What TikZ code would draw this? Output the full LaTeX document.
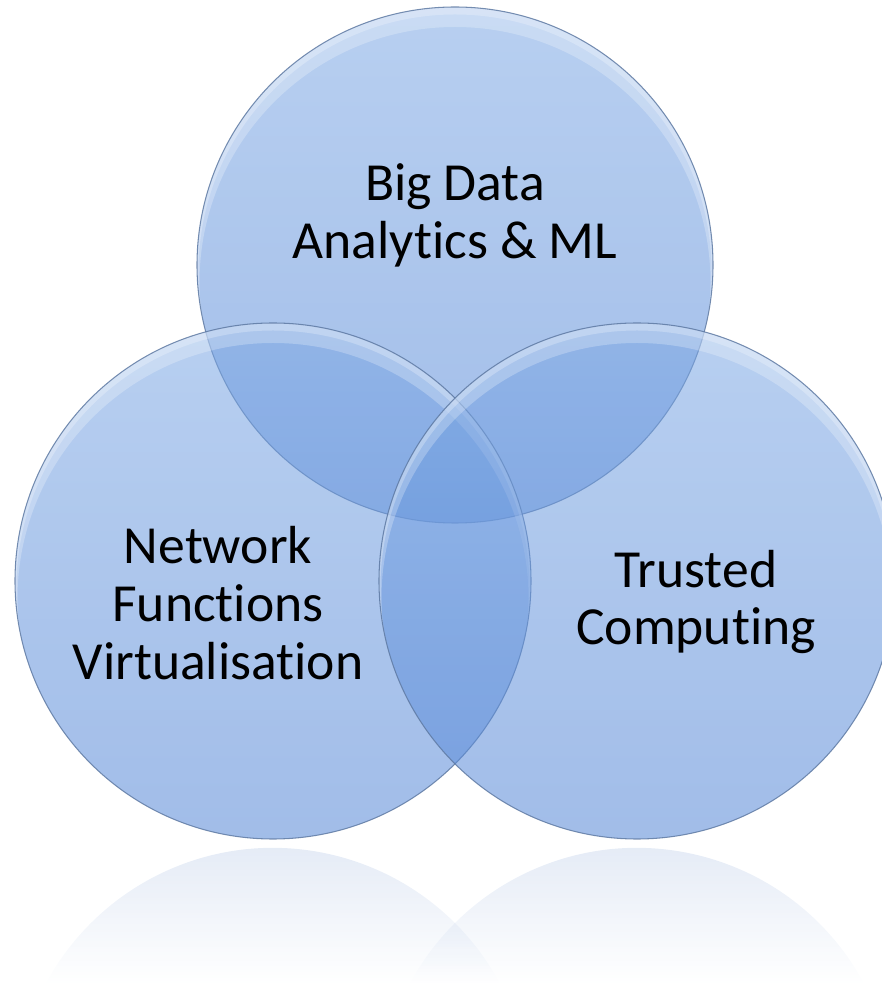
\documentclass[tikz,border=0pt]{standalone}
\usepackage{fontspec}
\setmainfont{Carlito}[Ligatures={NoCommon,NoRequired,NoContextual},Contextuals=NoAlternate]
\usetikzlibrary{fadings}

\definecolor{venntop}{RGB}{125,168,228}
\definecolor{vennbot}{RGB}{84,134,214}
\definecolor{vennrim}{RGB}{88,116,158}
\definecolor{reflcol}{RGB}{118,152,208}

\tikzfading[name=reflfade, top color=transparent!76, bottom color=transparent!100]

\begin{document}
\begin{tikzpicture}[
    vennset/.style={top color=venntop, bottom color=vennbot, fill opacity=0.55},
    vennrimline/.style={draw=vennrim, line width=0.6pt, draw opacity=0.8},
    vennglow/.style={fill=white, fill opacity=0.25, even odd rule},
    vennlabel/.style={align=center, font=\fontsize{30.5}{33}\selectfont, text=black}
  ]
  \useasboundingbox (0,0) rectangle (17.64,19.68);
  \clip (0,0) rectangle (17.64,19.68);

  \coordinate (bigdata) at (9.10,14.38);
  \coordinate (nfv) at (5.46,8.06);
  \coordinate (trusted) at (12.74,8.06);

  \foreach \x in {5.46,12.74}
    \fill[reflcol, path fading=reflfade] (\x+4.547,0) arc[start angle=28.2, end angle=151.8, radius=5.16] -- cycle;

  \foreach \c in {bigdata,nfv,trusted}{
    \shade[vennset] (\c) circle[radius=5.16];
    \begin{scope}
      \clip (\c) circle[radius=5.16];
      \fill[vennglow] (\c) circle[radius=5.16] ([yshift=-0.35cm]\c) circle[radius=5.11];
      \fill[vennglow] (\c) circle[radius=5.16] ([yshift=-0.12cm]\c) circle[radius=5.13];
    \end{scope}
    \draw[vennrimline] (\c) circle[radius=5.16];
  }

  \node[vennlabel] (bigdatatext) at (9.10,15.38) {Big Data\\Analytics \& ML};
  \node[vennlabel] (nfvtext) at (4.36,7.62) {Network\\Functions\\Virtualisation};
  \node[vennlabel] (trustedtext) at (13.92,7.64) {Trusted\\Computing};
\end{tikzpicture}
\end{document}
